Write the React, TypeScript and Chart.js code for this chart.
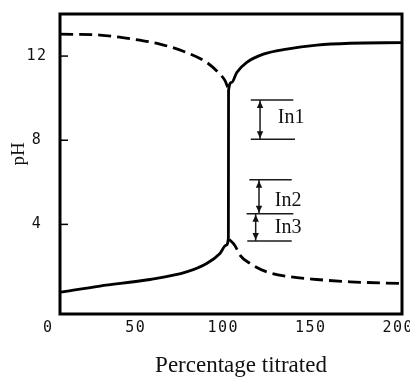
import { useEffect, useRef } from 'react';
import { Chart, registerables } from 'chart.js';

Chart.register(...registerables);

// Axis tick labels
const xTicks = [0, 50, 100, 150, 200];
const yTicks = [4, 8, 12];

// Solid curve (acid titrated with base)
const acidX = [6.8, 29.5, 58.1, 79.0, 90.5, 98.1, 101.5, 102.9, 103.0, 104.8, 107.7, 113.4, 122.9, 136.2, 153.4, 172.4, 202.0];
const acidPH = [0.78, 1.07, 1.38, 1.74, 2.14, 2.62, 3.0, 3.33, 10.36, 10.75, 11.22, 11.7, 12.09, 12.33, 12.52, 12.61, 12.64];

// Dashed curve (base titrated with acid), upper and lower branches
const baseUpperX = [6.8, 29.5, 48.6, 63.8, 79.0, 90.5, 97.1, 101.0, 102.7];
const baseUpperPH = [13.04, 13.0, 12.8, 12.57, 12.17, 11.7, 11.22, 10.83, 10.48];
const baseLowerX = [103.4, 106.6, 109.5, 115.3, 124.8, 138.1, 153.4, 172.4, 202.0];
const baseLowerPH = [3.28, 3.0, 2.54, 2.14, 1.74, 1.51, 1.38, 1.27, 1.19];

// Indicator ranges
const indicatorNames = ['In1', 'In2', 'In3'];
const indicatorHigh = [9.91, 6.12, 4.51];
const indicatorLow = [8.05, 4.51, 3.21];
const arrowX = [121.0, 120.4, 118.5];
const labelX = [131.1, 129.4, 129.4];
const labelPH = [9.05, 5.14, 3.84];

// Horizontal limit lines of the indicator ranges
const limitPH = [9.91, 8.05, 6.12, 4.51, 3.21];
const limitStart = [115.7, 115.7, 114.9, 113.3, 113.7];
const limitEnd = [140.0, 141.0, 139.1, 140.0, 139.1];

const xTitle = 'Percentage titrated';
const yTitle = 'pH';

const decorPlugin = {
  id: 'decor',
  beforeDraw(chart: any) {
    chart.ctx.letterSpacing = '1.5px';
  },
  beforeDatasetsDraw(chart: any) {
    chart.ctx.letterSpacing = '0px';
  },
  afterDatasetsDraw(chart: any) {
    const { ctx, chartArea: a, scales } = chart;
    const x = scales.x;
    const y = scales.y;
    ctx.save();
    ctx.letterSpacing = '0px';
    ctx.fillStyle = '#111';
    ctx.strokeStyle = '#000';
    // arrowheads
    arrowX.forEach((ax: number, i: number) => {
      const px = x.getPixelForValue(ax);
      const top = y.getPixelForValue(indicatorHigh[i]);
      const bot = y.getPixelForValue(indicatorLow[i]);
      ctx.beginPath();
      ctx.moveTo(px, top + 1);
      ctx.lineTo(px - 3.2, top + 8);
      ctx.lineTo(px + 3.2, top + 8);
      ctx.closePath();
      ctx.fill();
      ctx.beginPath();
      ctx.moveTo(px, bot - 1);
      ctx.lineTo(px - 3.2, bot - 8);
      ctx.lineTo(px + 3.2, bot - 8);
      ctx.closePath();
      ctx.fill();
    });
    // frame
    ctx.lineWidth = 3;
    ctx.strokeRect(a.left, a.top, a.right - a.left, a.bottom - a.top);
    // small inner y ticks
    ctx.lineWidth = 1.5;
    yTicks.forEach((v: number) => {
      const py = y.getPixelForValue(v);
      ctx.beginPath();
      ctx.moveTo(a.left, py);
      ctx.lineTo(a.left + 8, py);
      ctx.stroke();
    });
    // indicator labels
    ctx.font = '20px "Liberation Serif"';
    ctx.textAlign = 'left';
    ctx.textBaseline = 'middle';
    indicatorNames.forEach((n: string, i: number) => {
      ctx.fillText(n, x.getPixelForValue(labelX[i]), y.getPixelForValue(labelPH[i]));
    });
    // axis titles
    ctx.font = '23px "Liberation Serif"';
    ctx.textAlign = 'center';
    ctx.fillText(xTitle, (a.left + a.right) / 2 + 10, a.bottom + 52);
    ctx.translate(a.left - 40.5, (a.top + a.bottom) / 2 - 10);
    ctx.rotate(-Math.PI / 2);
    ctx.font = '19px "Liberation Serif"';
    ctx.fillText(yTitle, 0, 0);
    ctx.restore();
  },
};

export default function App() {
  const ref = useRef<HTMLCanvasElement>(null);
  useEffect(() => {
    const canvas = ref.current;
    if (!canvas) return;
    const pts = (xs: number[], ys: number[]) => xs.map((v, i) => ({ x: v, y: ys[i] }));
    const thin = {
      borderColor: '#1a1a1a',
      borderWidth: 1.5,
      pointRadius: 0,
      showLine: true,
      fill: false,
    };
    const curve = {
      borderColor: '#000',
      borderWidth: 2.8,
      pointRadius: 0,
      showLine: true,
      fill: false,
      cubicInterpolationMode: 'monotone' as const,
    };
    const datasets: any[] = [
      ...limitPH.map((p, i) => ({ ...thin, label: 'limit' + i, data: [{ x: limitStart[i], y: p }, { x: limitEnd[i], y: p }] })),
      ...arrowX.map((ax, i) => ({ ...thin, label: indicatorNames[i], data: [{ x: ax, y: indicatorHigh[i] }, { x: ax, y: indicatorLow[i] }] })),
      { ...curve, label: 'Acid titrated', data: pts(acidX, acidPH) },
      { ...curve, label: 'Base titrated (upper)', data: pts(baseUpperX, baseUpperPH), borderDash: [13, 6] },
      { ...curve, label: 'Base titrated (lower)', data: pts(baseLowerX, baseLowerPH), borderDash: [13, 6] },
    ];
    const tickFont = { family: '"DejaVu Sans Mono"', size: 15 };
    const chart = new Chart(canvas, {
      type: 'scatter',
      data: { datasets },
      options: {
        animation: false,
        responsive: false,
        maintainAspectRatio: false,
        layout: { padding: { top: 14, right: 8, left: 0, bottom: 0 }, autoPadding: false },
        plugins: { legend: { display: false }, tooltip: { enabled: false } },
        scales: {
          x: {
            type: 'linear',
            min: 6.7,
            max: 202.1,
            afterBuildTicks: (s: any) => {
              s.ticks = xTicks.map((v) => ({ value: v }));
            },
            afterFit: (s: any) => {
              s.height = 64;
              s.paddingLeft = 0;
              s.paddingRight = 0;
            },
            grid: { display: false, drawTicks: false },
            border: { display: false },
            ticks: { autoSkip: false, maxRotation: 0, padding: 5, font: tickFont, color: '#111' },
          },
          y: {
            type: 'linear',
            min: -0.26,
            max: 14,
            afterBuildTicks: (s: any) => {
              s.ticks = yTicks.map((v) => ({ value: v }));
            },
            afterFit: (s: any) => {
              s.width = 60;
              s.paddingTop = 0;
              s.paddingBottom = 0;
            },
            grid: { display: false, drawTicks: false },
            border: { display: false },
            ticks: { crossAlign: 'center', padding: 14, font: tickFont, color: '#111' },
          },
        },
      } as any,
      plugins: [decorPlugin],
    });
    return () => chart.destroy();
  }, []);
  return (
    <div style={{ position: 'fixed', left: 0, top: 0, width: 410, height: 378, background: '#fff' }}>
      <canvas ref={ref} width={410} height={378} style={{ display: 'block' }} />
    </div>
  );
}
